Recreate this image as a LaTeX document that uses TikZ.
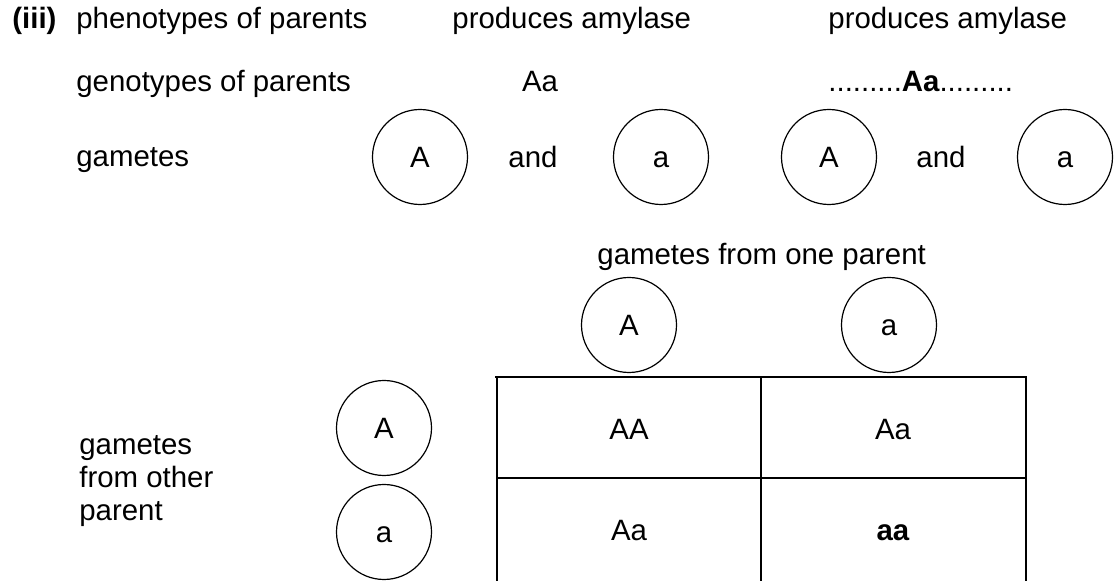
\documentclass[tikz,border=0pt]{standalone}
\usepackage{fontspec}
\setmainfont{Liberation Sans}
\usetikzlibrary{positioning}

\begin{document}
\begin{tikzpicture}[x=0.5pt,y=-0.5pt,node distance=1cm,
  every node/.style={font=\fontsize{14.7}{16.5}\selectfont,inner sep=0pt},
  rowtext/.style={anchor=base west},
  celltext/.style={anchor=base},
  gamete/.style={draw,circle,line width=0.6pt,minimum size=47.5pt,
    text height=10.5pt,text depth=0pt}]
		\useasboundingbox (0,0) rectangle (1119,581);
		\def\lw{1.1pt}
		% parents
		\node[rowtext] (part) at (12,29) {\textbf{(iii)}};
		\node[rowtext] (phenolbl) at (76,29) {phenotypes of parents};
		\node[rowtext] (phenoone) at (452,29) {produces amylase};
		\node[rowtext] (phenotwo) at (828,29) {produces amylase};
		\node[rowtext] (genolbl) at (76,92) {genotypes of parents};
		\node[celltext] (genoone) at (540,92) {Aa};
		\node[rowtext] (genotwo) at (828,92) {.........\textbf{Aa}.........};
		
		% gametes of each parent
		\node[rowtext] (gamlbl) at (76,167) {gametes};
		\node[gamete] (gA) at (420,157) {A};
		\node[celltext] (andone) at (533,168) {and};
		\node[gamete] (ga) at (661,157) {a};
		\node[gamete] (hA) at (829,157) {A};
		\node[celltext] (andtwo) at (941,168) {and};
		\node[gamete] (ha) at (1065,157) {a};
		
		% punnett square
		\node[rowtext] (onelbl) at (597,265) {gametes from one parent};
		\node[gamete] (topA) at (629,325) {A};
		\node[gamete] (topa) at (889,325) {a};
		\node[gamete] (sideA) at (384,428) {A};
		\node[gamete] (sidea) at (384,532) {a};
		\node[rowtext,align=left] (otherlbl) at (79,521) {gametes\\from other\\parent};
		
		\coordinate (tl) at (497,377);
		\coordinate (tr) at (1026,377);
		\draw[line width=\lw] ([xshift=-1pt]tl) -- (tr) -- (1026,581);
		\draw[line width=\lw] (tl) -- (497,581);
		\draw[line width=\lw] (761,377) -- (761,581);
		\draw[line width=\lw] (497,478) -- (1026,478);
		
		\node[celltext] (AA) at (629,440) {AA};
		\node[celltext] (Aaone) at (893,440) {Aa};
		\node[celltext] (Aatwo) at (629,541) {Aa};
		\node[celltext] (aa) at (893,541) {\textbf{aa}};
\end{tikzpicture}
\end{document}
